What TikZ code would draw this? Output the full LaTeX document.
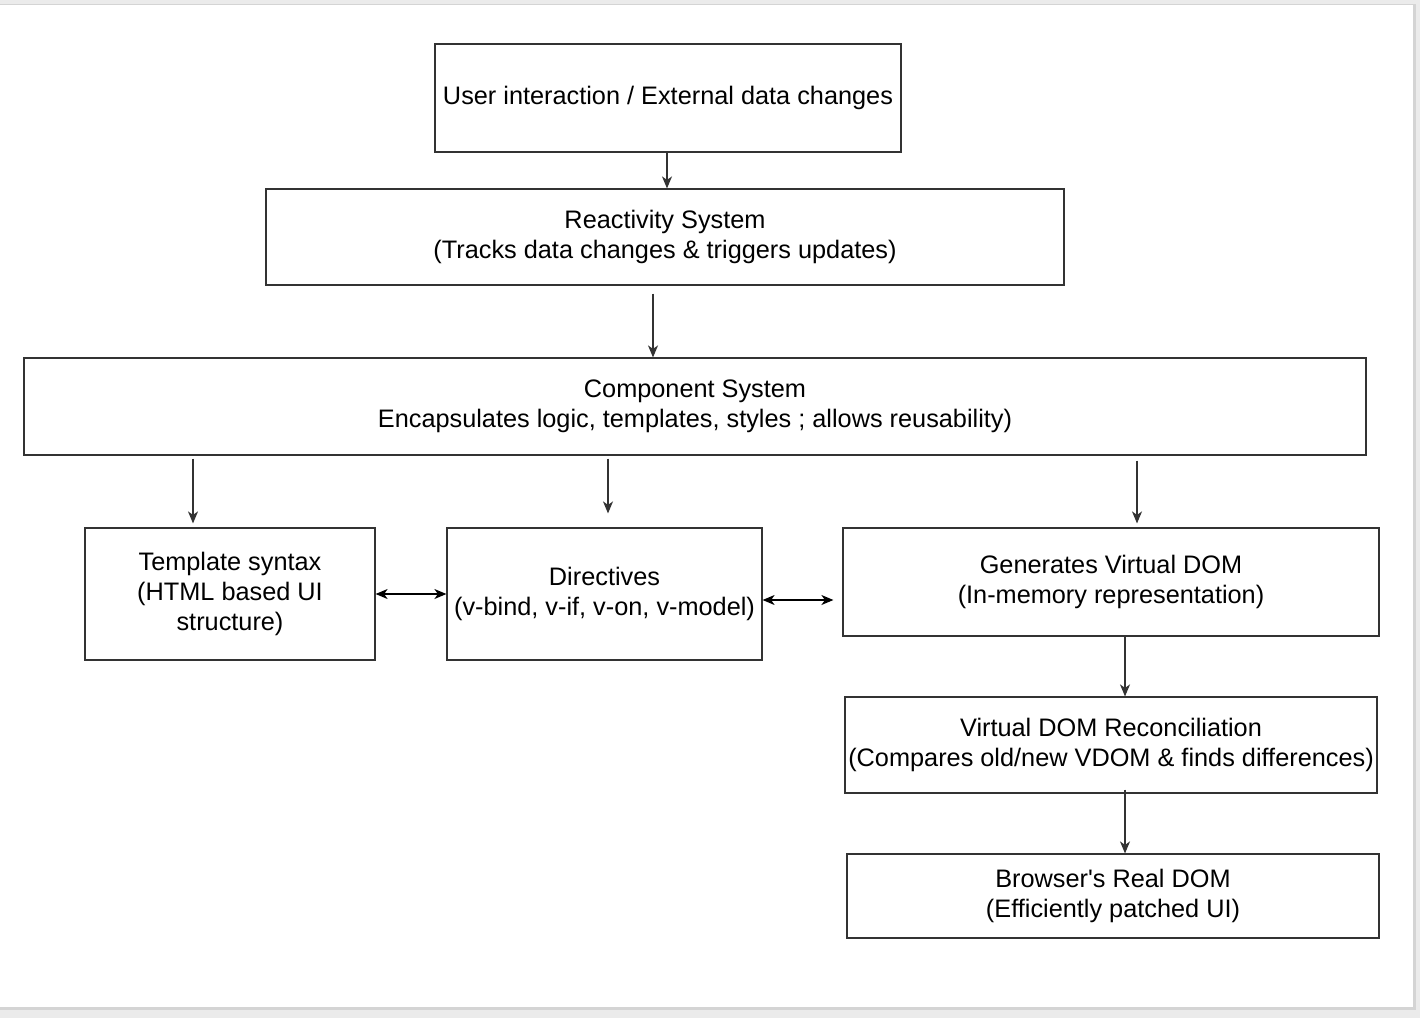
\documentclass[tikz,border=0pt]{standalone}
\usepackage{fontspec}
\setmainfont{Liberation Sans}
\usetikzlibrary{arrows.meta}
\definecolor{pagegray}{HTML}{EBEBEB}
\definecolor{edgegray}{HTML}{D4D4D4}
\definecolor{boxline}{HTML}{333333}
\tikzset{
  box/.style={draw=boxline, line width=1.2pt, fill=white, align=center,
    inner sep=0pt, font=\fontsize{25.3}{30}\selectfont},
  tip/.tip={Stealth[length=12pt,width=10pt,inset=3.5pt]},
  arr/.style={draw=black!80, line width=1.2pt, -tip},
  darr/.style={draw=black, line width=1.2pt, tip-tip}
}
\begin{document}
\begin{tikzpicture}[x=1pt,y=-1pt]
\useasboundingbox (0,0) rectangle (1420,1018);
\fill[pagegray] (0,0) rectangle (1420,1018);
\fill[edgegray] (0,4) rectangle (1416,1010);
\fill[white] (0,5) rectangle (1413,1007);

\node[box, minimum width=466, minimum height=108] (ui) at (668,98)
  {User interaction / External data changes};
\node[box, minimum width=798, minimum height=96] (rs) at (665,237)
  {Reactivity System\\(Tracks data changes \& triggers updates)};
\node[box, minimum width=1342, minimum height=97] (cs) at (695,406.5)
  {Component System\\Encapsulates logic, templates, styles ; allows reusability)};
\node[box, minimum width=290, minimum height=132] (ts) at (230,594)
  {Template syntax\\(HTML based UI\\structure)};
\node[box, minimum width=315, minimum height=132] (dir) at (604.5,594)
  {Directives\\(v-bind, v-if, v-on, v-model)};
\node[box, minimum width=536, minimum height=108] (vd) at (1111,582)
  {Generates Virtual DOM\\(In-memory representation)};
\node[box, minimum width=532, minimum height=96] (rc) at (1111,745)
  {Virtual DOM Reconciliation\\(Compares old/new VDOM \& finds differences)};
\node[box, minimum width=532, minimum height=84] (bd) at (1113,896)
  {Browser\textquotesingle s Real DOM\\(Efficiently patched UI)};

\draw[arr] ([xshift=-1pt]ui.south) -- ([xshift=-1pt]ui.south |- rs.north);
\draw[arr, shorten <=8pt] ([xshift=-12pt]rs.south) -- ([xshift=-12pt]rs.south |- cs.north);
\draw[arr, shorten <=3pt, shorten >=4pt] (cs.south -| 193,0) -- (ts.north -| 193,0);
\draw[arr, shorten <=3pt, shorten >=14pt] (cs.south -| 608,0) -- (dir.north -| 608,0);
\draw[arr, shorten <=5pt, shorten >=4pt] (cs.south -| 1137,0) -- (vd.north -| 1137,0);
\draw[darr] (ts.east) -- (dir.west);
\draw[darr, shorten >=9pt] (dir.east |- 0,600) -- (vd.west |- 0,600);
\draw[arr] (vd.south -| 1125,0) -- (rc.north -| 1125,0);
\draw[arr, shorten <=-4pt] (rc.south -| 1125,0) -- (bd.north -| 1125,0);
\end{tikzpicture}
\end{document}
